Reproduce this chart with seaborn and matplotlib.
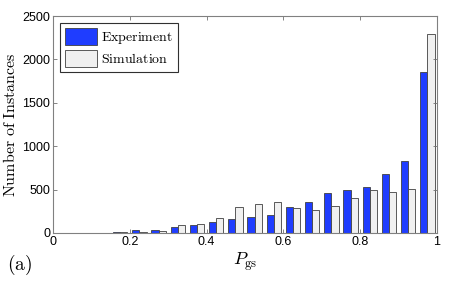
import seaborn as sns
import matplotlib.pyplot as plt
import pandas as pd
from matplotlib.patches import Patch

# Histogram of ground-state probability, 20 bins of width 0.05
bin_centers = [0.025, 0.075, 0.125, 0.175, 0.225, 0.275, 0.325, 0.375, 0.425, 0.475,
               0.525, 0.575, 0.625, 0.675, 0.725, 0.775, 0.825, 0.875, 0.925, 0.975]
experiment = [1, 2, 5, 10, 38, 33, 68, 88, 130, 161,
              184, 207, 296, 357, 457, 492, 526, 676, 833, 1858]
simulation = [0, 1, 4, 14, 12, 20, 88, 104, 176, 296,
              334, 353, 284, 261, 307, 400, 495, 469, 507, 2293]
series_names = ['Experiment', 'Simulation']
colors = ['#1f3dff', '#f0f0f0']

df = pd.DataFrame({
    'center': bin_centers * 2,
    'count': experiment + simulation,
    'source': [series_names[0]] * len(bin_centers) + [series_names[1]] * len(bin_centers),
})

plt.rcParams['mathtext.fontset'] = 'cm'
plt.rcParams['font.family'] = ['Liberation Sans', 'DejaVu Sans']

fig = plt.figure(figsize=(4.5, 2.81), dpi=100)
ax = fig.add_axes([0.118, 0.171, 0.853, 0.772])

sns.barplot(data=df, x='center', y='count', hue='source', native_scale=True,
            width=0.75, gap=0, palette=colors, saturation=1,
            edgecolor='#404040', linewidth=0.6, ax=ax, legend=False)

ax.set_xlim(0, 1)
ax.set_ylim(0, 2500)
ax.set_xticks([0, 0.2, 0.4, 0.6, 0.8, 1])
ax.set_xticklabels(['0', '0.2', '0.4', '0.6', '0.8', '1'])
ax.set_yticks([0, 500, 1000, 1500, 2000, 2500])
ax.tick_params(direction='in', length=3, width=0.6, color='#707070',
               labelsize=9, top=True, right=True, pad=2)
for s in ax.spines.values():
    s.set_color('#808080')
    s.set_linewidth(0.8)

ax.set_xlabel(r'$P_{\rm gs}$', fontsize=13, labelpad=2)
ax.set_ylabel(r'$\mathrm{Number\ of\ Instances}$', fontsize=11.5, labelpad=3)

handles = [Patch(facecolor=c, edgecolor='#404040', linewidth=0.6) for c in colors]
leg = ax.legend(handles, [r'$\mathrm{%s}$' % n for n in series_names], loc='upper left',
                fontsize=10, handlelength=2.3, handleheight=1.5, handletextpad=0.3,
                borderpad=0.35, labelspacing=0.3, fancybox=False, framealpha=1,
                borderaxespad=0.5)
leg.get_frame().set_edgecolor('#303030')
leg.get_frame().set_linewidth(0.8)

fig.text(0.015, 0.04, r'$\mathrm{(a)}$', fontsize=14)

plt.savefig('out.png', dpi=100)
